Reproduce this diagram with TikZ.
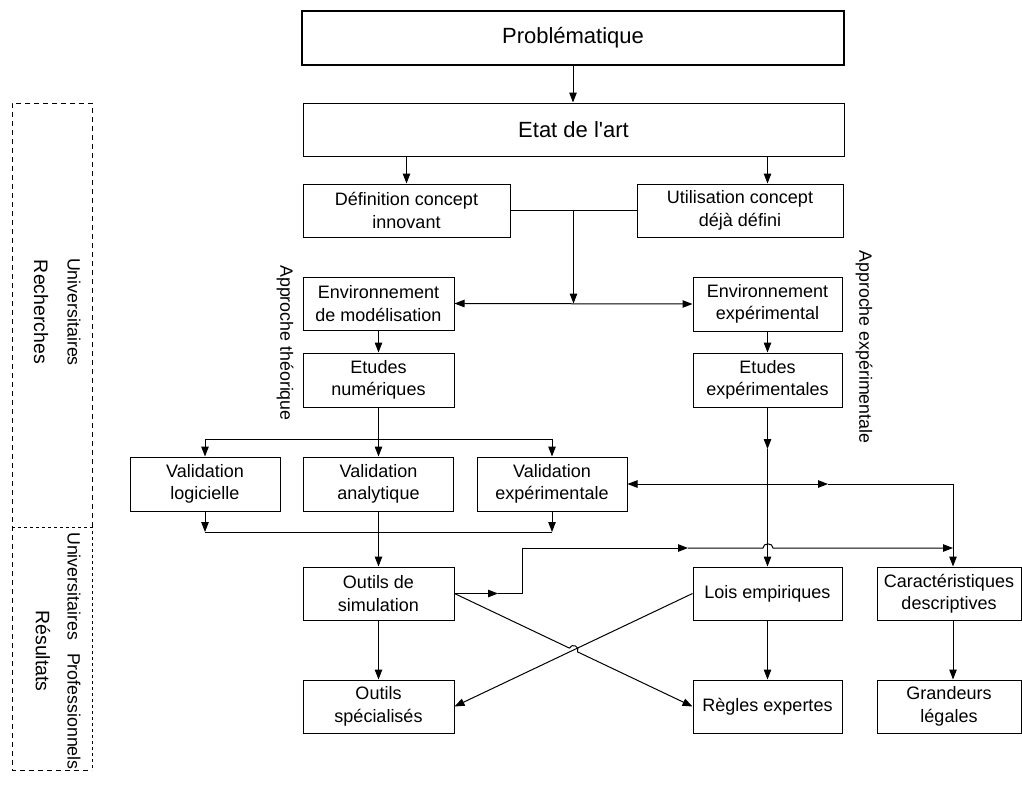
\documentclass[tikz,border=0pt]{standalone}
\usepackage{fontspec}
\setmainfont{Liberation Sans}
\usetikzlibrary{arrows.meta}
\newcommand\boxfont{\fontsize{18}{22.5}\selectfont}
\newcommand\bigboxfont{\fontsize{22}{26}\selectfont}
\newcommand\sidefont{\fontsize{17.8}{20}\selectfont}
\newcommand\sidebigfont{\fontsize{19.5}{23}\selectfont}
\begin{document}
\begin{tikzpicture}[x=1pt,y=-1pt,line width=1pt,
  >={Triangle[length=10pt,width=7.5pt]},
  box/.style={draw,rectangle,inner sep=0pt,align=center,font=\boxfont,line width=1pt},
  sbox/.style={box,minimum width=151pt,minimum height=53pt},
  vlabel/.style={rotate=-90,inner sep=0pt,font=\sidefont},
  vbig/.style={rotate=-90,inner sep=0pt,font=\sidebigfont},
  frameA/.style={dash pattern=on 5pt off 4pt},
  frameB/.style={dash pattern=on 3pt off 3pt}]
\useasboundingbox (0,0) rectangle (1022,787);

% boxes
\node[box,line width=2pt,minimum width=542pt,minimum height=54pt,font=\bigboxfont] (prob) at (573,38) {Problématique};
\node[box,minimum width=541pt,minimum height=53pt,font=\bigboxfont] (etat) at (573.5,129.5) {Etat de l\textquotesingle art};
\node[box,minimum width=207pt,minimum height=53pt] (def) at (406.5,210.5) {Définition concept\\innovant};
\node[box,minimum width=206pt,minimum height=53pt] (util) at (740,210.5) {Utilisation concept\\déjà défini};
\node[sbox] (envmod) at (378.5,303.5) {Environnement\\de modélisation};
\node[sbox,minimum width=149pt,minimum height=54pt] (envexp) at (767.5,304) {Environnement\\expérimental};
\node[sbox,minimum height=54pt] (etnum) at (378.5,380) {Etudes\\numériques};
\node[sbox,minimum width=149pt,minimum height=54pt] (etexp) at (767.5,380) {Etudes\\expérimentales};
\node[sbox,minimum width=150pt,minimum height=54pt] (vallog) at (205,484) {Validation\\logicielle};
\node[sbox,minimum width=150pt,minimum height=54pt] (valana) at (378.5,484) {Validation\\analytique};
\node[sbox,minimum width=150pt,minimum height=54pt] (valexp) at (552,484) {Validation\\expérimentale};
\node[sbox] (outsim) at (378.5,593.5) {Outils de\\simulation};
\node[sbox,minimum width=149pt] (lois) at (767.5,593.5) {Lois empiriques};
\node[sbox,minimum width=144pt] (caract) at (949,593.5) {Caractéristiques\\descriptives};
\node[sbox] (outspec) at (378.5,706.5) {Outils\\spécialisés};
\node[sbox,minimum width=149pt] (regles) at (767.5,706.5) {Règles expertes};
\node[sbox,minimum width=144pt] (grand) at (949,706.5) {Grandeurs\\légales};

% side labels
\node[vlabel] (appth) at (285,343) {Approche théorique};
\node[vlabel] (appexp) at (864,347) {Approche expérimentale};
\node[vbig] (rech) at (41,312) {Recherches};
\node[vlabel] (univ1) at (74,312) {Universitaires};
\node[vbig] (res) at (43,651) {Résultats};
\node[vlabel] (univ2) at (74,651) {Universitaires\hspace{13pt}Professionnels};

% frames
\draw[frameA] (92,527) -- (92,103) -- (12,103) -- (12,770) -- (92,770);
\draw[frameB] (12,527) -- (92,527) -- (92,770);

% coordinates
\coordinate (j1) at (573.5,210.5);
\coordinate (cx) at (953,484);
\coordinate (vt) at (378.5,439);
\coordinate (vb) at (378.5,532);
\coordinate (m1) at (767.5,449);
\coordinate (m2) at (828,484);
\coordinate (m3) at (498,593.5);
\coordinate (o1) at (522,593.5);
\coordinate (o2) at (522,548);
\coordinate (m4) at (688,548);
\coordinate (ce) at (953,548);

% connectors
\draw[->] (prob.south) -- (prob.south |- etat.north);
\draw[->] (etat.south -| def.north) -- (def.north);
\draw[->] (etat.south -| envexp.north) -- (envexp.north |- util.north);
\draw (def.east) -- (util.west);
\draw[->] (j1) -- (j1 |- envmod.east);
\draw[<->] (envmod.east) -- (envexp.west);
\draw[->] (envmod.south) -- (etnum.north);
\draw[->] (envexp.south) -- (etexp.north);
\draw[->] (etnum.south) -- (valana.north);
\draw (vallog.north |- vt) -- (valexp.north |- vt);
\draw[->] (vallog.north |- vt) -- (vallog.north);
\draw[->] (valexp.north |- vt) -- (valexp.north);
\draw[->] (vallog.south) -- (vallog.south |- vb);
\draw[->] (valexp.south) -- (valexp.south |- vb);
\draw (vallog.south |- vb) -- (valexp.south |- vb);
\draw[->] (valana.south) -- (outsim.north);
\draw[->] (etexp.south) -- (m1);
\draw[->] (m1) -- (lois.north);
\draw[<->] (valexp.east) -- (m2);
\draw[->] (m2) -- (cx) -- (cx |- caract.north);
\draw[->] (outsim.east) -- (m3);
\draw (m3) -- (o1) -- (o2);
\draw[->] (o2) -- (m4);
\draw[->] (m4) -- (763,548) .. controls (763,542.5) and (773,542.5) .. (773,548) -- (ce);
\draw[->] (outsim.east) -- (569.4,648.1) .. controls (572.0,642.7) and (580.2,646.5) .. (577.6,651.9) -- (regles.west);
\draw[->] (lois.west) -- (outspec.east);
\draw[->] (lois.south) -- (regles.north);
\draw[->] (cx |- caract.south) -- (cx |- grand.north);
\draw[->] (outsim.south) -- (outspec.north);
\end{tikzpicture}
\end{document}
